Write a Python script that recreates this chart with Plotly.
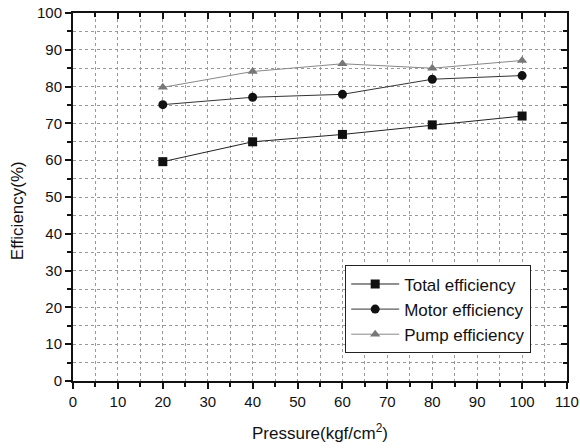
import plotly.graph_objects as go

pressure = [20, 40, 60, 80, 100]
total_eff = [59.6, 65.0, 67.0, 69.6, 72.0]
motor_eff = [75.1, 77.1, 77.9, 82.0, 83.0]
pump_eff = [79.8, 84.1, 86.2, 85.0, 87.1]

series = [
    ("Total efficiency", total_eff, "square", "#111111", "#222222"),
    ("Motor efficiency", motor_eff, "circle", "#111111", "#333333"),
    ("Pump efficiency", pump_eff, "triangle-up", "#777777", "#888888"),
]

fig = go.Figure()
for name, vals, sym, mcol, lcol in series:
    fig.add_trace(go.Scatter(
        x=pressure, y=vals, name=name, mode="lines+markers",
        line=dict(color=lcol, width=1),
        marker=dict(symbol=sym, size=9, color=mcol),
    ))

font = dict(family="Arial, Liberation Sans, sans-serif", color="#111111")

fig.update_layout(
    width=580, height=448,
    margin=dict(l=73, r=13, t=13, b=67, autoexpand=False),
    paper_bgcolor="white", plot_bgcolor="white",
    font=dict(**font, size=15),
    showlegend=True,
    legend=dict(
        x=0.551, y=0.314, xanchor="left", yanchor="top",
        bordercolor="#222222", borderwidth=1, bgcolor="white",
        font=dict(**font, size=17), tracegroupgap=0, itemwidth=48,
    ),
    xaxis=dict(
        range=[0, 110], dtick=10, tick0=0, automargin=False,
        showline=True, linecolor="#111111", linewidth=2,
        ticks="outside", ticklen=6, tickwidth=2, tickcolor="#111111",
        showgrid=True, gridcolor="#999999", griddash="dot", gridwidth=1,
        minor=dict(dtick=5, ticks="outside", ticklen=4, tickcolor="#111111",
                   showgrid=True, gridcolor="#999999", griddash="dot"),
        zeroline=False,
        title=dict(text="Pressure(kgf/cm<sup>2</sup>)", font=dict(**font, size=17), standoff=18),
        tickfont=dict(**font, size=15),
    ),
    yaxis=dict(
        range=[0, 100], dtick=10, tick0=0, automargin=False,
        showline=True, linecolor="#111111", linewidth=2,
        ticks="outside", ticklen=6, tickwidth=2, tickcolor="#111111",
        showgrid=True, gridcolor="#999999", griddash="dot", gridwidth=1,
        minor=dict(dtick=5, ticks="outside", ticklen=4, tickcolor="#111111",
                   showgrid=True, gridcolor="#999999", griddash="dot"),
        zeroline=False,
        tickfont=dict(**font, size=15),
    ),
    xaxis2=dict(
        overlaying="x", side="top", range=[0, 110], dtick=10, tick0=0, automargin=False,
        showline=True, linecolor="#111111", linewidth=2,
        ticks="inside", ticklen=6, tickwidth=2, tickcolor="#111111",
        minor=dict(dtick=5, ticks="inside", ticklen=4, tickcolor="#111111"),
        showticklabels=False, showgrid=False, zeroline=False,
    ),
    yaxis2=dict(
        overlaying="y", side="right", range=[0, 100], dtick=10, tick0=0, automargin=False,
        showline=True, linecolor="#111111", linewidth=2,
        ticks="inside", ticklen=6, tickwidth=2, tickcolor="#111111",
        minor=dict(dtick=5, ticks="inside", ticklen=4, tickcolor="#111111"),
        showticklabels=False, showgrid=False, zeroline=False,
    ),
    annotations=[dict(
        text="Efficiency(%)", textangle=-90, showarrow=False,
        xref="paper", yref="paper", x=-0.111, y=0.462,
        xanchor="center", yanchor="middle", font=dict(**font, size=17),
    )],
)

fig.add_trace(go.Scatter(x=[], y=[], xaxis="x2", yaxis="y2", showlegend=False, hoverinfo="skip"))

fig.write_html("out.html")
